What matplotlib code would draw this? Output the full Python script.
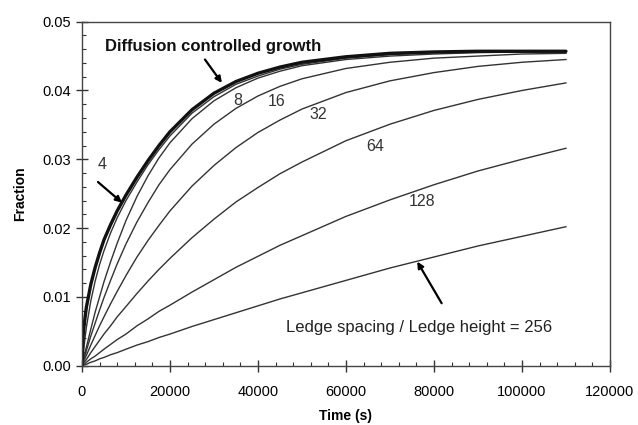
import numpy as np
import matplotlib
matplotlib.use('Agg')
from matplotlib import pyplot as plt
from matplotlib.ticker import MultipleLocator

plt.rcParams['font.family'] = ['Liberation Sans', 'DejaVu Sans']

# time points (s)
time = [0, 500, 1000, 2000, 3000, 4000, 5000, 6500, 8000, 10000, 12500, 15000, 17500,
        20000, 25000, 30000, 35000, 40000, 45000, 50000, 60000, 70000, 80000, 90000,
        100000, 110000]

# diffusion controlled curve (steep start)
time_diff = [0, 250] + time[1:]
frac_diff = [0, 0.0043, 0.0060, 0.0085, 0.0118, 0.0143, 0.0164, 0.0183, 0.0205, 0.0225,
             0.0248, 0.0274, 0.0298, 0.0320, 0.0340, 0.0372, 0.0396, 0.0413, 0.0425,
             0.0434, 0.0441, 0.0449, 0.0454, 0.0456, 0.0457, 0.0457, 0.0457]

# ledge spacing / ledge height curves
frac_4 = [0, 0.0030, 0.0056, 0.0094, 0.0123, 0.0147, 0.0167, 0.0193, 0.0215, 0.0240,
          0.0267, 0.0292, 0.0314, 0.0334, 0.0367, 0.0391, 0.0409, 0.0421, 0.0431,
          0.0438, 0.0447, 0.0452, 0.0455, 0.0456, 0.0457, 0.0457]
frac_8 = [0, 0.0014, 0.0027, 0.0053, 0.0078, 0.0100, 0.0122, 0.0151, 0.0178, 0.0211,
          0.0246, 0.0276, 0.0302, 0.0324, 0.0359, 0.0385, 0.0404, 0.0418, 0.0428,
          0.0436, 0.0445, 0.0450, 0.0453, 0.0455, 0.0456, 0.0456]
frac_16 = [0, 0.0011, 0.0022, 0.0043, 0.0062, 0.0081, 0.0099, 0.0124, 0.0148, 0.0177,
           0.0209, 0.0237, 0.0263, 0.0285, 0.0322, 0.0351, 0.0374, 0.0392, 0.0406,
           0.0417, 0.0432, 0.0441, 0.0447, 0.0450, 0.0453, 0.0454]
frac_32 = [0, 0.0008, 0.0015, 0.0030, 0.0044, 0.0058, 0.0071, 0.0090, 0.0108, 0.0131,
           0.0158, 0.0182, 0.0204, 0.0225, 0.0261, 0.0291, 0.0317, 0.0339, 0.0357,
           0.0373, 0.0397, 0.0414, 0.0426, 0.0435, 0.0441, 0.0445]
frac_64 = [0, 0.0005, 0.0009, 0.0019, 0.0028, 0.0037, 0.0046, 0.0058, 0.0071, 0.0086,
           0.0105, 0.0123, 0.0140, 0.0156, 0.0186, 0.0213, 0.0238, 0.0259, 0.0279,
           0.0296, 0.0327, 0.0351, 0.0371, 0.0387, 0.0400, 0.0411]
frac_128 = [0, 0.0002, 0.0005, 0.0010, 0.0014, 0.0019, 0.0024, 0.0031, 0.0038, 0.0046,
            0.0058, 0.0068, 0.0079, 0.0088, 0.0107, 0.0125, 0.0143, 0.0159, 0.0175,
            0.0189, 0.0217, 0.0241, 0.0263, 0.0283, 0.0300, 0.0316]
frac_256 = [0, 0.0001, 0.0002, 0.0005, 0.0007, 0.0010, 0.0012, 0.0016, 0.0019, 0.0024,
            0.0030, 0.0035, 0.0041, 0.0046, 0.0057, 0.0067, 0.0077, 0.0087, 0.0097,
            0.0106, 0.0124, 0.0142, 0.0158, 0.0174, 0.0188, 0.0202]
ledge_curves = [frac_4, frac_8, frac_16, frac_32, frac_64, frac_128, frac_256]

fig = plt.figure(figsize=(6.38, 4.25), dpi=100)
ax = fig.add_axes([0.1285, 0.1395, 0.8275, 0.8095])

for frac in ledge_curves:
    ax.plot(time, frac, color='#333333', lw=1.0)
ax.plot(time_diff, frac_diff, color='#111111', lw=2.4, solid_capstyle='round')

ax.set_xlim(0, 120000)
ax.set_ylim(0, 0.05)
ax.xaxis.set_major_locator(MultipleLocator(20000))
ax.xaxis.set_minor_locator(MultipleLocator(4000))
ax.yaxis.set_major_locator(MultipleLocator(0.01))
ax.yaxis.set_minor_locator(MultipleLocator(0.002))
ax.yaxis.set_major_formatter(plt.FuncFormatter(lambda v, p: '%.2f' % v))
ax.tick_params(which='major', direction='inout', length=8, width=1, labelsize=10.5, color='#333333')
ax.tick_params(which='minor', direction='in', length=3, width=0.8, color='#333333')
ax.tick_params(axis='x', which='major', pad=10)
ax.tick_params(axis='y', which='major', pad=4)
for sp in ax.spines.values():
    sp.set_color('#444444')
    sp.set_linewidth(1.0)

ax.set_xlabel('Time (s)', fontsize=10, fontweight='bold', labelpad=7)
ax.set_ylabel('Fraction', fontsize=10, fontweight='bold', labelpad=11)

# labels and arrows
arrow = dict(arrowstyle='-|>', color='black', lw=1.6, mutation_scale=9, shrinkA=0, shrinkB=0)
ax.text(29900, 0.0464, 'Diffusion controlled growth', fontsize=12, fontweight='bold',
        ha='center', va='center', color='#111111')
ax.annotate('', xy=(31800, 0.0411), xytext=(27950, 0.0445), arrowprops=arrow)
ax.text(4600, 0.0292, '4', fontsize=11.5, ha='center', va='center', color='#333333')
ax.annotate('', xy=(9090, 0.0237), xytext=(3636, 0.0267), arrowprops=arrow)
ax.text(76700, 0.0056, 'Ledge spacing / Ledge height = 256', fontsize=12,
        ha='center', va='center', color='#222222')
ax.annotate('', xy=(76200, 0.01513), xytext=(81750, 0.00908), arrowprops=arrow)

label_pos = {8: (35500, 0.0385), 16: (44300, 0.0384), 32: (53800, 0.0365),
             64: (66600, 0.0319), 128: (77200, 0.0239)}
for r, (tx, fy) in label_pos.items():
    ax.text(tx, fy, str(r), fontsize=11.5, ha='center', va='center', color='#333333')

plt.savefig('out.png', dpi=100)
